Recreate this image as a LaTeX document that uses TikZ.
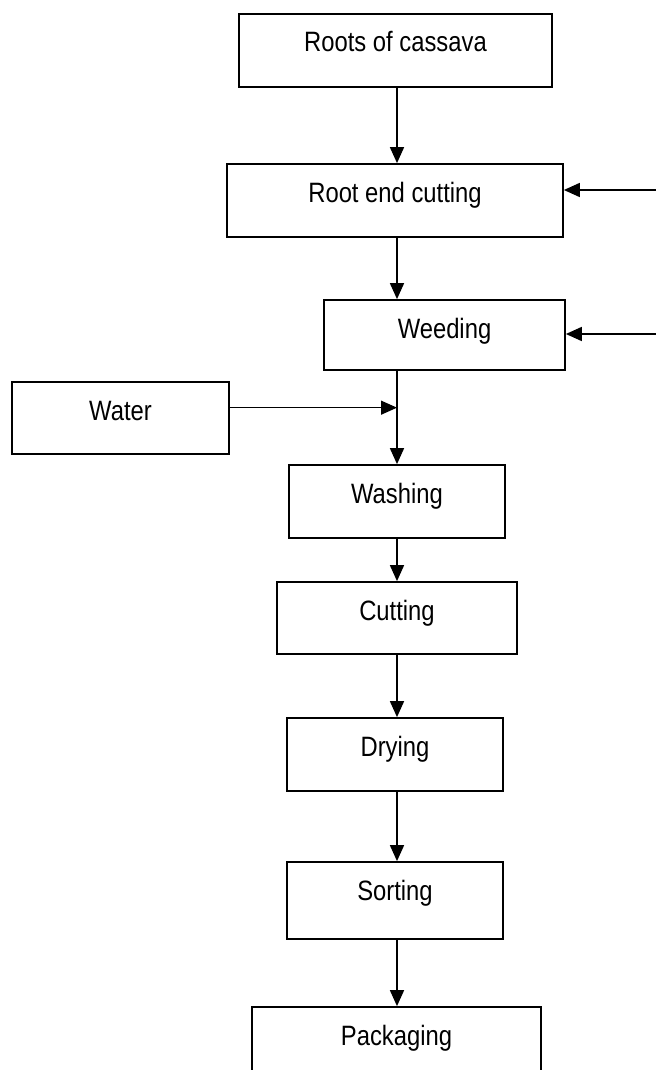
\documentclass[tikz,border=0pt]{standalone}
\usepackage{fontspec}
\setmainfont{Liberation Sans}[FakeStretch=0.85]
\usepackage{tikz}
\usetikzlibrary{calc,arrows.meta}
\tikzset{
  stage/.style={draw=black, line width=1.3pt, fill=white, inner sep=0pt,
                text height=28.5pt, font=\fontsize{21}{24}\selectfont},
  flow/.style={line width=1.2pt, -{Triangle[length=12pt, width=10.5pt]}},
  flow thin/.style={flow, line width=0.9pt},
}
\begin{document}
\begin{tikzpicture}[x=0.75pt, y=-0.75pt]
% page frame in pixel units, y runs downward
\clip (0,0) rectangle (656,1070);
\fill[white] (0,0) rectangle (656,1070);
% process boxes: name / centre x / centre y / width / depth / label
\foreach \name/\cx/\cy/\w/\d/\txt in {
    roots/395.5/50.5/234.75/26.25/Roots of cassava,
    endcut/395/200.5/252/26.25/Root end cutting,
    weeding/444.5/335/180.75/24/Weeding,
    water/120.5/418/162.75/25.5/Water,
    washing/397/501.5/162/26.25/Washing,
    cutting/397/618/180/25.5/Cutting,
    drying/395/754.5/162/26.25/Drying,
    sorting/395/900.5/162/29.25/Sorting,
    packaging/396.5/1046/216.75/30/Packaging}
  \node[stage, minimum width=\w pt, text depth=\d pt] (\name) at (\cx,\cy) {\txt};
% main line and side inputs
\coordinate (spine) at (397,0);
\coordinate (feedcut) at (656,190);
\coordinate (feedweed) at (656,334);
\coordinate (inlet) at ($(water.north east)!0.36!(water.south east)$);
\draw[flow] (spine |- roots.south) -- (spine |- endcut.north);
\draw[flow] (spine |- endcut.south) -- (spine |- weeding.north);
\draw[flow] (spine |- weeding.south) -- (washing.north);
\draw[flow thin] (inlet) -- (spine |- inlet);
\draw[flow] (feedcut) -- (feedcut -| endcut.east);
\draw[flow] (feedweed) -- (feedweed -| weeding.east);
\foreach \a/\b in {washing/cutting, cutting/drying, drying/sorting, sorting/packaging}
  \draw[flow] (spine |- \a.south) -- (spine |- \b.north);
\end{tikzpicture}
\end{document}
